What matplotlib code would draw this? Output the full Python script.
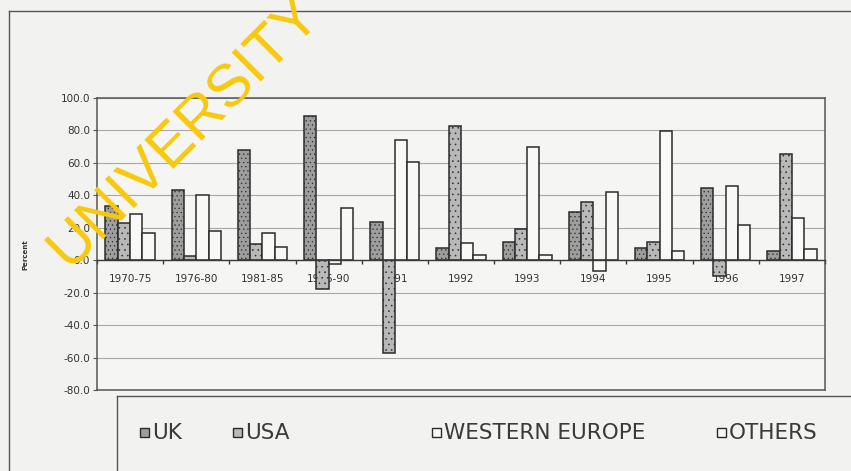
import matplotlib.pyplot as plt
import numpy as np
from matplotlib.lines import Line2D
from matplotlib.patches import Rectangle

# Growth by destination, per cent
periods = ["1970-75", "1976-80", "1981-85", "1986-90", "1991", "1992",
           "1993", "1994", "1995", "1996", "1997"]
uk = [33.5, 43.5, 68.0, 89.0, 23.5, 7.5, 11.5, 30.0, 7.5, 44.5, 5.5]
usa = [23.0, 2.5, 10.0, -17.5, -57.0, 83.0, 19.0, 36.0, 11.5, -9.5, 65.5]
western_europe = [28.5, 40.0, 16.5, -2.5, 74.0, 10.5, 69.5, -6.5, 79.5, 46.0, 26.0]
others = [16.5, 18.0, 8.0, 32.5, 60.5, 3.0, 3.0, 42.0, 5.5, 21.5, 7.0]

series_names = ["UK", "USA", "WESTERN EUROPE", "OTHERS"]
series = [uk, usa, western_europe, others]
fills = ["#9e9e9e", "#b8b8b8", "#f8f8f6", "#f8f8f6"]
hatches = ["....", "...", None, None]

plt.rcParams["hatch.color"] = "#7c7c7c"
plt.rcParams["hatch.linewidth"] = 0.4

W, H = 851, 471
fig = plt.figure(figsize=(W / 100, H / 100), dpi=100)
fig.patch.set_facecolor("#f2f2f0")

ax = fig.add_axes([97 / W, 1 - 390 / H, 728 / W, 292 / H])
ax.set_facecolor("#f5f5f3")

x = np.arange(len(periods))
width = 0.186
for i, (vals, fc, ht) in enumerate(zip(series, fills, hatches)):
    ax.bar(x + (i - 1.5) * width, vals, width, color=fc, hatch=ht,
           edgecolor="#2b2b2b", linewidth=1.1, zorder=3)

ax.set_xlim(-0.5, len(periods) - 0.5)
ax.set_ylim(-80, 100)
ax.set_yticks(np.arange(-80, 101, 20))
ax.set_yticklabels([f"{v:.1f}" for v in np.arange(-80, 101, 20)])
ax.yaxis.grid(True, color="#a9a9a9", linewidth=0.8, zorder=0)

# category axis sits on the zero line
ax.spines["bottom"].set_position(("data", 0))
ax.spines["bottom"].set_color("#3a3a3a")
ax.spines["bottom"].set_linewidth(1.0)
ax.spines["bottom"].set_zorder(4)
for s in ["left", "top", "right"]:
    ax.spines[s].set_color("#555555")
    ax.spines[s].set_linewidth(1.1)
ax.axhline(-80, color="#555555", linewidth=1.1, clip_on=False, zorder=4)

ax.set_xticks(x)
ax.set_xticklabels(periods)
ax.set_xticks(np.arange(len(periods) + 1) - 0.5, minor=True)
ax.tick_params(axis="x", which="major", length=0, pad=10, labelsize=7.5,
               labelcolor="#333333")
ax.tick_params(axis="x", which="minor", length=3, width=1, color="#3a3a3a",
               direction="out")
ax.tick_params(axis="y", length=3, width=0.8, color="#555555", pad=2,
               labelsize=7.5, labelcolor="#333333")

fig.text(25 / W, 1 - 255 / H, "Percent", rotation=90, ha="center",
         va="center", fontsize=5, fontweight="bold", color="#333333")

# outer chart frame and legend box
frame_kw = dict(color="#555555", linewidth=1.0, transform=fig.transFigure)
fig.add_artist(Line2D([9 / W, 1.01], [1 - 11 / H, 1 - 11 / H], **frame_kw))
fig.add_artist(Line2D([9 / W, 9 / W], [1 - 11 / H, -0.01], **frame_kw))
fig.add_artist(Line2D([117 / W, 1.01], [1 - 396 / H, 1 - 396 / H], **frame_kw))
fig.add_artist(Line2D([117 / W, 117 / W], [1 - 396 / H, -0.01], **frame_kw))

legend_x = [140, 233, 432, 717]
for name, fc, lx in zip(series_names, fills, legend_x):
    fig.add_artist(Rectangle((lx / W, 1 - 437 / H), 9 / W, 9 / H,
                             transform=fig.transFigure, facecolor=fc,
                             edgecolor="#2b2b2b", linewidth=1.0))
    fig.text((lx + 12) / W, 1 - 433 / H, name, ha="left", va="center",
             fontsize=15.5, color="#3a3a3a")

fig.text(69 / W, 1 - 270 / H, "UNIVERSITY", rotation=45,
         rotation_mode="anchor", ha="left", va="baseline", fontsize=43,
         color="#f7c90f", family=["Liberation Sans", "DejaVu Sans"], zorder=10)

fig.savefig("out.png", dpi=100, facecolor=fig.get_facecolor())
